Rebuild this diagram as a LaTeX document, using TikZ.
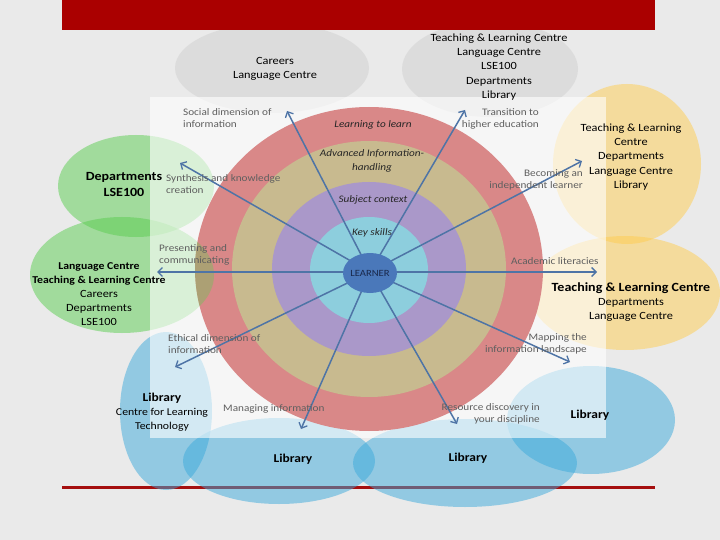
\documentclass[tikz,border=0pt]{standalone}
\usepackage{fontspec}
\setmainfont[FakeStretch=1.12]{Carlito}
\usetikzlibrary{arrows.meta}
\definecolor{bgc}{RGB}{234,234,234}
\definecolor{barred}{RGB}{170,0,0}
\definecolor{linered}{RGB}{165,15,15}
\definecolor{ringred}{RGB}{217,136,136}
\definecolor{ringtan}{RGB}{200,186,143}
\definecolor{ringpurple}{RGB}{170,152,201}
\definecolor{ringblue}{RGB}{141,206,221}
\definecolor{learnerblue}{RGB}{74,120,186}
\definecolor{learnertext}{RGB}{25,40,75}
\definecolor{arrowblue}{RGB}{78,116,166}
\definecolor{labelgray}{RGB}{95,95,95}
\definecolor{elgreen}{RGB}{90,205,80}
\definecolor{elblue}{RGB}{60,170,220}
\definecolor{elyellow}{RGB}{255,205,80}
\definecolor{elgray}{RGB}{212,212,212}
\tikzset{
  blob/.style={opacity=.5},
  lbl/.style={text=labelgray, inner sep=0pt, font=\fontsize{10}{12.5}\selectfont},
  ringlbl/.style={text=black!85, inner sep=0pt, font=\fontsize{10}{14}\selectfont\itshape, align=center},
  eltext/.style={text=black, inner sep=0pt, align=center, font=\fontsize{11}{14.2}\selectfont},
  arr/.style={draw=arrowblue, line width=1.5pt, -{Straight Barb[length=4.5pt,width=9pt,line width=1.3pt]}},
}
\begin{document}
\begin{tikzpicture}[x=1pt,y=-1pt]
\useasboundingbox (0,0) rectangle (720,540);
\fill[bgc] (0,0) rectangle (720,540);
% bottom rule
\draw[linered, line width=3pt] (62,487) -- (655,487);
% coloured ellipses
\fill[elgray, opacity=.6] (272,68) ellipse [x radius=97, y radius=45];
\fill[elgray, opacity=.6] (490,69) ellipse [x radius=88, y radius=48];
\fill[elyellow, blob] (627,164) ellipse [x radius=74, y radius=80];
\fill[elyellow, blob] (625,293) ellipse [x radius=95, y radius=57];
\fill[elgreen, blob] (136,186) ellipse [x radius=78, y radius=51];
\fill[elgreen, blob] (122,275) ellipse [x radius=92, y radius=58];
\fill[elblue, blob] (166,411) ellipse [x radius=46, y radius=79];
\fill[elblue, blob] (279,461) ellipse [x radius=96, y radius=43];
\fill[elblue, blob] (465,463) ellipse [x radius=112, y radius=44];
\fill[elblue, blob] (591,420) ellipse [x radius=84, y radius=54];
% top bar
\fill[barred] (62,0) rectangle (655,30);
% white panel
\fill[white, opacity=.6] (150,97) rectangle (606,438);
% rings
\fill[ringred] (369,269) ellipse [x radius=174, y radius=162];
\fill[ringtan] (369,269) ellipse [x radius=137, y radius=128];
\fill[ringpurple] (369,269) ellipse [x radius=97, y radius=87];
\fill[ringblue] (369,270) ellipse [x radius=59, y radius=53];
% green tint where the left ellipse overlaps the outer ring
\begin{scope}
\clip (369,269) ellipse [x radius=174, y radius=162];
\fill[elgreen, opacity=.35] (122,275) ellipse [x radius=92, y radius=58];
\fill[elgreen, opacity=.35] (136,186) ellipse [x radius=78, y radius=51];
\end{scope}
% arrows
\coordinate (c) at (370,272);
\coordinate (t1) at (287,111);
\coordinate (t2) at (180,163);
\coordinate (t3) at (465,110);
\coordinate (t4) at (582,161);
\coordinate (t5) at (157,272);
\coordinate (t6) at (597,272);
\coordinate (t7) at (175,367);
\coordinate (t8) at (301,429);
\coordinate (t9) at (457,424);
\coordinate (t10) at (570,362);
\foreach \t in {t1,t2,t3,t4,t5,t6,t7,t8,t9,t10} \draw[arr] (c) -- (\t);
% learner
\fill[learnerblue] (370,273) ellipse [x radius=27, y radius=20];
\node[text=learnertext, inner sep=0pt, font=\fontsize{9.5}{11}\selectfont] (learner) at (370,273) {LEARNER};
% ring labels
\node[ringlbl] (r1) at (373,125) {Learning to learn};
\node[ringlbl] (r2) at (372,161) {Advanced Information-\\handling};
\node[ringlbl] (r3) at (373,200) {Subject context};
\node[ringlbl] (r4) at (372,233) {Key skills};
% arrow labels
\node[lbl, anchor=west, align=left] (a1) at (183,118) {Social dimension of\\information};
\node[lbl, anchor=west, align=left] (a2) at (166,184) {Synthesis and knowledge\\creation};
\node[lbl, anchor=west, align=left] (a3) at (159,255) {Presenting and\\communicating};
\node[lbl, anchor=west, align=left] (a4) at (168,344) {Ethical dimension of\\information};
\node[lbl, anchor=west] (a5) at (223,409) {Managing information};
\node[lbl, anchor=west] (a6) at (511,261) {Academic literacies};
\node[lbl, anchor=east, align=right] (a7) at (539,119) {Transition to\\higher education};
\node[lbl, anchor=east, align=right] (a8) at (583,180) {Becoming an\\independent learner};
\node[lbl, anchor=east, align=right] (a9) at (587,344) {Mapping the\\information landscape};
\node[lbl, anchor=east, align=right] (a10) at (540,414) {Resource discovery in\\your discipline};
% ellipse texts
\node[eltext] (e1) at (275,69) {Careers\\Language Centre};
\node[eltext] (e2) at (499,67) {Teaching \& Learning Centre\\Language Centre\\LSE100\\Departments\\Library};
\node[eltext] (e3) at (631,157) {Teaching \& Learning\\Centre\\Departments\\Language Centre\\Library};
\node[eltext, font=\fontsize{12.5}{16}\selectfont\bfseries] (e4) at (124,184) {Departments\\LSE100};
\node[eltext] (e5) at (99,294) {{\fontsize{10.5}{14.2}\selectfont\bfseries Language Centre}\\{\fontsize{10.5}{14.2}\selectfont\bfseries Teaching \& Learning Centre}\\Careers\\Departments\\LSE100};
\node[eltext] (e6) at (631,302) {{\fontsize{12.5}{16}\selectfont\bfseries Teaching \& Learning Centre}\\Departments\\Language Centre};
\node[eltext, font=\fontsize{10.5}{14}\selectfont] (e7) at (162,412) {{\fontsize{12}{14}\selectfont\bfseries Library}\\Centre for Learning\\Technology};
\node[eltext, font=\fontsize{12}{14}\selectfont\bfseries] (e8) at (293,459) {Library};
\node[eltext, font=\fontsize{12}{14}\selectfont\bfseries] (e9) at (468,458) {Library};
\node[eltext, font=\fontsize{12}{14}\selectfont\bfseries] (e10) at (590,415) {Library};
\end{tikzpicture}
\end{document}
